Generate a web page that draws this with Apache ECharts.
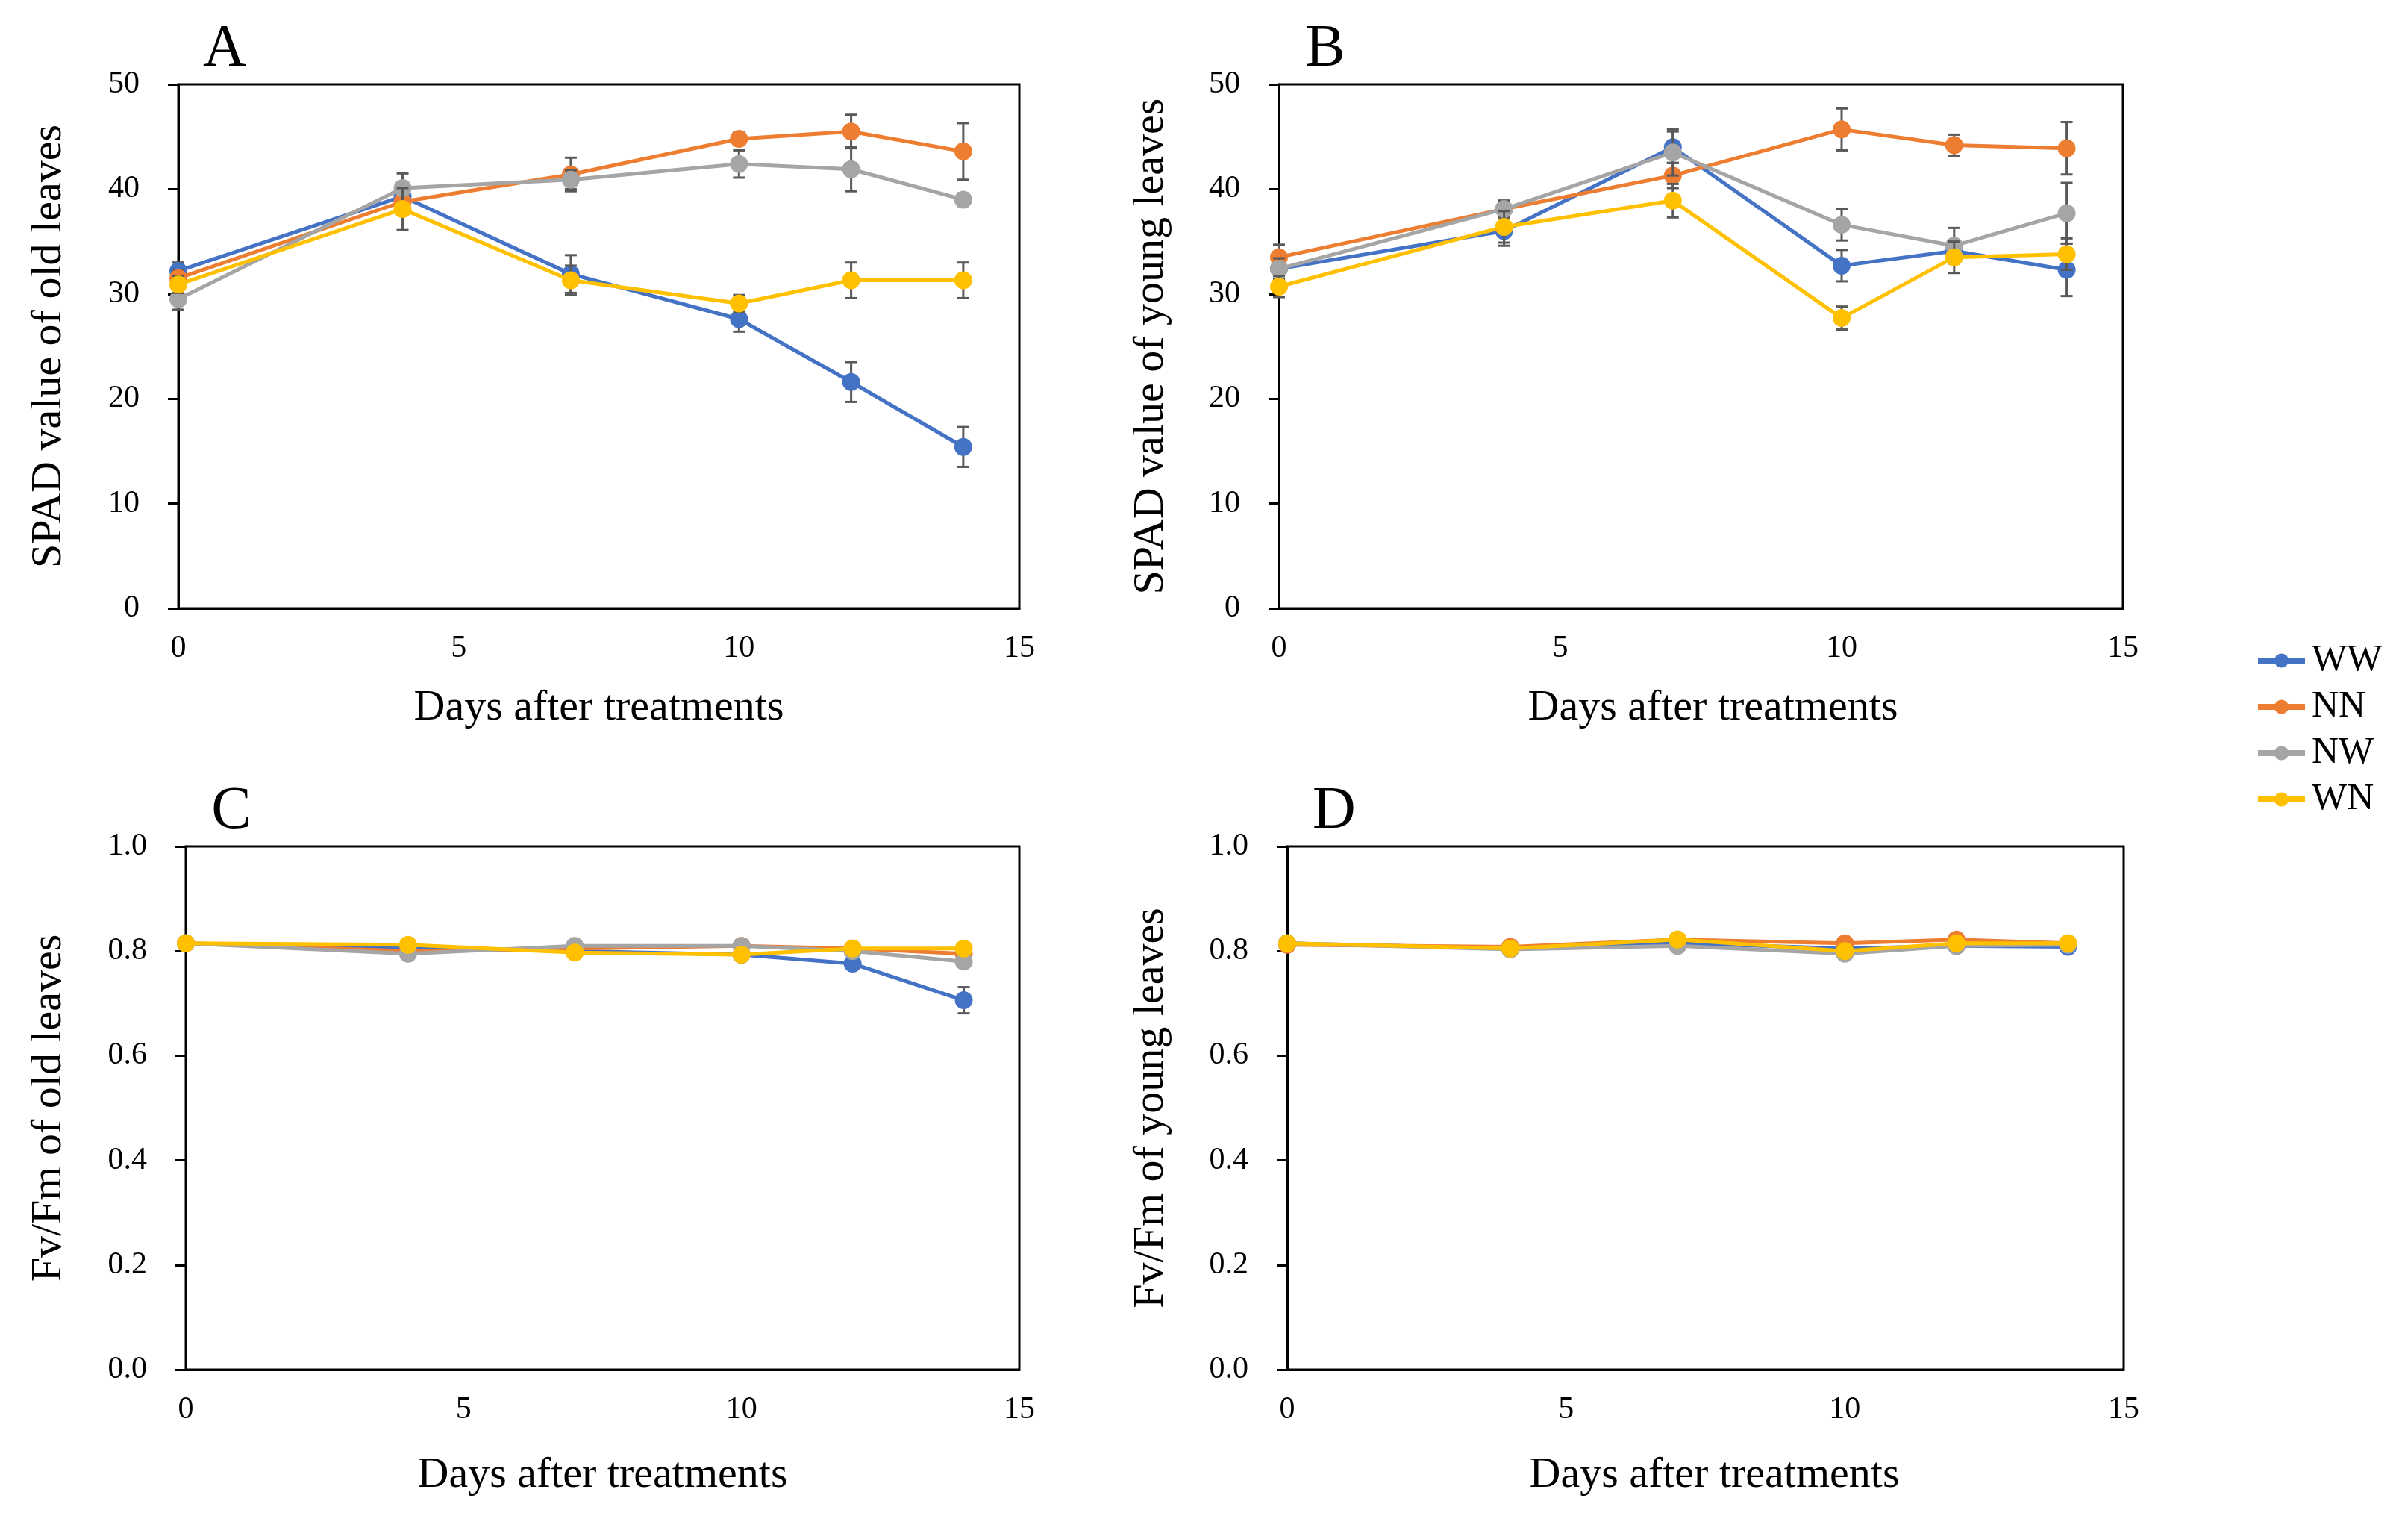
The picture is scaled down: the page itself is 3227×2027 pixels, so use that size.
<!DOCTYPE html>
<html>
<head>
<meta charset="utf-8">
<script src="https://cdn.jsdelivr.net/npm/echarts@6/dist/echarts.min.js"></script>
<style>html,body{margin:0;padding:0;background:#fff;}#c{width:3227px;height:2027px;}</style>
</head>
<body>
<div id="c"></div>
<script>
// ---- data ----
const days = [0, 4, 7, 10, 12, 14];
const groups = ['WW', 'NN', 'NW', 'WN'];
const xTicks = [0, 5, 10, 15];

// A: SPAD value of old leaves
const spadOld_WW = [32.2, 39.3, 31.9, 27.6, 21.6, 15.4];
const spadOld_WW_err = [0.8, 1.0, 1.8, 1.2, 1.9, 1.9];
const spadOld_NN = [31.5, 38.8, 41.4, 44.8, 45.5, 43.6];
const spadOld_NN_err = [0.8, 1.2, 1.6, 0.6, 1.6, 2.7];
const spadOld_NW = [29.5, 40.1, 40.9, 42.4, 41.9, 39.0];
const spadOld_NW_err = [1.0, 1.4, 0.9, 1.3, 2.1, 0.6];
const spadOld_WN = [30.9, 38.1, 31.3, 29.1, 31.3, 31.3];
const spadOld_WN_err = [0.8, 2.0, 1.4, 0.8, 1.7, 1.7];

// B: SPAD value of young leaves
const spadYoung_WW = [32.4, 36.0, 44.0, 32.7, 34.1, 32.3];
const spadYoung_WW_err = [1.0, 1.4, 1.5, 1.5, 1.0, 2.5];
const spadYoung_NN = [33.5, 38.1, 41.3, 45.7, 44.2, 43.9];
const spadYoung_NN_err = [1.2, 0.8, 1.2, 2.0, 1.0, 2.5];
const spadYoung_NW = [32.4, 38.1, 43.5, 36.6, 34.6, 37.7];
const spadYoung_NW_err = [1.0, 0.8, 2.2, 1.5, 1.7, 2.9];
const spadYoung_WN = [30.7, 36.4, 38.9, 27.7, 33.5, 33.8];
const spadYoung_WN_err = [1.0, 1.5, 1.6, 1.1, 1.5, 1.5];

// C: Fv/Fm of old leaves
const fvOld_WW = [0.815, 0.805, 0.800, 0.793, 0.776, 0.706];
const fvOld_WW_err = [0.005, 0.005, 0.005, 0.005, 0.008, 0.025];
const fvOld_NN = [0.815, 0.800, 0.805, 0.810, 0.805, 0.795];
const fvOld_NN_err = [0.005, 0.005, 0.005, 0.005, 0.005, 0.006];
const fvOld_NW = [0.815, 0.795, 0.810, 0.810, 0.800, 0.780];
const fvOld_NW_err = [0.005, 0.005, 0.005, 0.005, 0.005, 0.006];
const fvOld_WN = [0.815, 0.812, 0.797, 0.793, 0.805, 0.805];
const fvOld_WN_err = [0.005, 0.005, 0.005, 0.005, 0.005, 0.005];

// D: Fv/Fm of young leaves
const fvYoung_WW = [0.815, 0.805, 0.815, 0.805, 0.810, 0.808];
const fvYoung_WW_err = [0.004, 0.004, 0.004, 0.004, 0.004, 0.004];
const fvYoung_NN = [0.812, 0.808, 0.822, 0.815, 0.822, 0.815];
const fvYoung_NN_err = [0.004, 0.004, 0.004, 0.004, 0.004, 0.004];
const fvYoung_NW = [0.815, 0.803, 0.810, 0.795, 0.810, 0.812];
const fvYoung_NW_err = [0.004, 0.004, 0.004, 0.004, 0.004, 0.004];
const fvYoung_WN = [0.815, 0.805, 0.822, 0.800, 0.815, 0.815];
const fvYoung_WN_err = [0.004, 0.004, 0.004, 0.004, 0.004, 0.004];

const panelLetters = ['A', 'B', 'C', 'D'];
const yTitles = ['SPAD value of old leaves', 'SPAD value of young leaves', 'Fv/Fm of old leaves', 'Fv/Fm of young leaves'];
const xTitle = 'Days after treatments';

// ---- styling / layout ----
const colors = { WW: '#4472C4', NN: '#ED7D31', NW: '#A5A5A5', WN: '#FFC000' };
const FONT = 'Liberation Serif';
const panels = [
  { vals: { WW: spadOld_WW, NN: spadOld_NN, NW: spadOld_NW, WN: spadOld_WN },
    errs: { WW: spadOld_WW_err, NN: spadOld_NN_err, NW: spadOld_NW_err, WN: spadOld_WN_err },
    grid: { left: 239, top: 113, width: 1127, height: 702 }, ymax: 50, yint: 10, dec: 0, nameGap: 173, xGap: 134, xPad: 0, letter: [301, 67] },
  { vals: { WW: spadYoung_WW, NN: spadYoung_NN, NW: spadYoung_NW, WN: spadYoung_WN },
    errs: { WW: spadYoung_WW_err, NN: spadYoung_NN_err, NW: spadYoung_NW_err, WN: spadYoung_WN_err },
    grid: { left: 1714, top: 113, width: 1131, height: 702 }, ymax: 50, yint: 10, dec: 0, nameGap: 171, xGap: 134, xPad: 32, letter: [1776, 67] },
  { vals: { WW: fvOld_WW, NN: fvOld_NN, NW: fvOld_NW, WN: fvOld_WN },
    errs: { WW: fvOld_WW_err, NN: fvOld_NN_err, NW: fvOld_NW_err, WN: fvOld_WN_err },
    grid: { left: 249, top: 1134, width: 1117, height: 701 }, ymax: 1, yint: 0.2, dec: 1, nameGap: 183, xGap: 142, xPad: 0, letter: [310, 1088] },
  { vals: { WW: fvYoung_WW, NN: fvYoung_NN, NW: fvYoung_NW, WN: fvYoung_WN },
    errs: { WW: fvYoung_WW_err, NN: fvYoung_NN_err, NW: fvYoung_NW_err, WN: fvYoung_WN_err },
    grid: { left: 1725, top: 1134, width: 1121, height: 701 }, ymax: 1, yint: 0.2, dec: 1, nameGap: 182, xGap: 142, xPad: 24, letter: [1788, 1088] }
];

const grids = [], xAxes = [], yAxes = [], series = [], graphics = [];
panels.forEach((p, i) => {
  grids.push(Object.assign({ show: true, borderColor: '#000', borderWidth: 3, backgroundColor: '#fff' }, p.grid));
  xAxes.push({
    type: 'value', gridIndex: i, min: xTicks[0], max: xTicks[xTicks.length - 1], interval: 5,
    axisLine: { show: true, onZero: false, lineStyle: { color: '#000', width: 3 } },
    axisTick: { show: false }, splitLine: { show: false },
    axisLabel: { color: '#000', fontFamily: FONT, fontSize: 42, margin: 33 },
    name: xTitle, nameLocation: 'middle', nameGap: p.xGap,
    nameTextStyle: { color: '#000', fontFamily: FONT, fontSize: 58, verticalAlign: 'middle', padding: [0, 0, 0, p.xPad] }
  });
  yAxes.push({
    type: 'value', gridIndex: i, min: 0, max: p.ymax, interval: p.yint,
    axisLine: { show: true, lineStyle: { color: '#000', width: 3 } },
    axisTick: { show: true, inside: false, length: 14, lineStyle: { color: '#000', width: 3 } },
    splitLine: { show: false },
    axisLabel: { color: '#000', fontFamily: FONT, fontSize: 42, margin: 52,
      formatter: v => Number(v).toFixed(p.dec) },
    name: yTitles[i], nameLocation: 'middle', nameGap: p.nameGap, nameRotate: 90,
    nameTextStyle: { color: '#000', fontFamily: FONT, fontSize: 58, verticalAlign: 'middle' }
  });
  groups.forEach((g, gi) => {
    series.push({
      type: 'line', name: g, xAxisIndex: i, yAxisIndex: i, z: 3 + gi,
      data: days.map((d, k) => [d, p.vals[g][k]]),
      symbol: 'circle', symbolSize: 24, showSymbol: true,
      lineStyle: { color: colors[g], width: 5 },
      itemStyle: { color: colors[g] },
      emphasis: { disabled: true }
    });
    series.push({
      type: 'custom', xAxisIndex: i, yAxisIndex: i, z: 3 + gi,
      data: days.map((d, k) => [d, p.vals[g][k], p.errs[g][k]]),
      encode: { x: 0, y: 1 },
      renderItem: (params, api) => {
        const x = api.value(0), y = api.value(1), e = api.value(2);
        const t = api.coord([x, y + e]), b = api.coord([x, y - e]);
        const cap = 8;
        const st = { stroke: '#595959', lineWidth: 3 };
        return { type: 'group', children: [
          { type: 'line', shape: { x1: t[0], y1: t[1], x2: b[0], y2: b[1] }, style: st },
          { type: 'line', shape: { x1: t[0] - cap, y1: t[1], x2: t[0] + cap, y2: t[1] }, style: st },
          { type: 'line', shape: { x1: b[0] - cap, y1: b[1], x2: b[0] + cap, y2: b[1] }, style: st }
        ] };
      },
      silent: true
    });
  });
  graphics.push({
    type: 'text', x: p.letter[0], y: p.letter[1],
    style: { text: panelLetters[i], fill: '#000', font: '80px "Liberation Serif"', textAlign: 'center', textVerticalAlign: 'middle' }
  });
});

const chart = echarts.init(document.getElementById('c'), null, { renderer: 'canvas' });
chart.setOption({
  animation: false,
  backgroundColor: '#fff',
  grid: grids, xAxis: xAxes, yAxis: yAxes, series: series,
  graphic: graphics,
  legend: {
    data: groups, orient: 'vertical', left: 3017, top: 855,
    itemWidth: 63, itemHeight: 24, itemGap: 12,
    lineStyle: { width: 8 },
    textStyle: { color: '#000', fontFamily: FONT, fontSize: 50, lineHeight: 50, padding: [0, 0, 0, 4] },
    selectedMode: false
  }
});
</script>
</body>
</html>
